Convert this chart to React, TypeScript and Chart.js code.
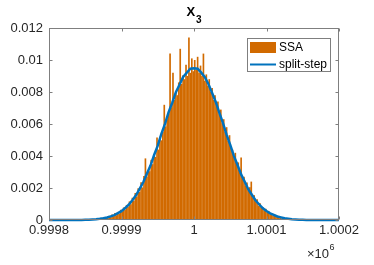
import React, { useEffect, useRef } from 'react';
import { Chart, registerables } from 'chart.js';

Chart.register(...registerables);

// Histogram (SSA): bin centres start at 999861, bin width 2
const BIN_START = 999861;
const BIN_WIDTH = 2;
const ssaDensity = [
  0.00002, 0, 0.00006, 0.00003, 0.00012, 0.00005, 0.0001, 0.00016, 0.00009, 0.00018,
  0.00014, 0.00026, 0.00018, 0.00034, 0.00024, 0.00044, 0.0003, 0.00048, 0.00039, 0.00064,
  0.0005, 0.00078, 0.00065, 0.00094, 0.00081, 0.00116, 0.00098, 0.00139, 0.0012, 0.00169,
  0.00146, 0.00198, 0.00175, 0.00236, 0.00204, 0.00275, 0.00385, 0.0027, 0.00312, 0.00305,
  0.00376, 0.00349, 0.0041, 0.00395, 0.00515, 0.0044, 0.0052, 0.00498, 0.0055, 0.0072,
  0.00585, 0.0063, 0.00662, 0.0104, 0.00705, 0.0092, 0.0075, 0.00805, 0.0078, 0.0086,
  0.0107, 0.0085, 0.00905, 0.0088, 0.0097, 0.009, 0.0114, 0.0092, 0.0101, 0.0093,
  0.01, 0.0094, 0.0102, 0.0092, 0.00965, 0.009, 0.0104, 0.0087, 0.0091, 0.0084,
  0.0088, 0.008, 0.00825, 0.0075, 0.0078, 0.0071, 0.0074, 0.0066, 0.0069, 0.00605,
  0.0063, 0.0055, 0.0058, 0.00495, 0.0053, 0.0045, 0.0044, 0.00395, 0.0042, 0.00345,
  0.0036, 0.00295, 0.0039, 0.0026, 0.0027, 0.00215, 0.00235, 0.00185, 0.00205, 0.0024,
  0.0014, 0.00155, 0.00115, 0.0013, 0.0009, 0.00105, 0.00075, 0.0008, 0.0006, 0.0007,
  0.00048, 0.00055, 0.00036, 0.00042, 0.00028, 0.00034, 0.0002, 0.00026, 0.00014, 0.00019,
  0.0001, 0.00015, 0.00006, 0.0001, 0.00003, 0.00006, 0.00002,
];

// Split-step curve: x from 999800 every 5
const LINE_START = 999800;
const LINE_STEP = 5;
const splitStepDensity = [
  0, 0, 0, 0, 0.000001, 0.000001, 0.000002, 0.000002, 0.000004, 0.000006,
  0.00001, 0.000018, 0.000033, 0.000052, 0.000078, 0.000115, 0.00016, 0.000225, 0.000305, 0.000425,
  0.000555, 0.000745, 0.000955, 0.00124, 0.00154, 0.00194, 0.00236, 0.00289, 0.0034, 0.00406,
  0.00465, 0.00538, 0.00601, 0.00674, 0.00733, 0.00799, 0.00845, 0.00894, 0.0092, 0.00946,
  0.00948,
  0.00946, 0.00921, 0.00893, 0.00849, 0.00794, 0.00738, 0.00669, 0.00606, 0.00532, 0.0047,
  0.00401, 0.00344, 0.00285, 0.00239, 0.00191, 0.00156, 0.00122, 0.00097, 0.00073, 0.000565,
  0.000415, 0.000315, 0.00022, 0.000162, 0.000108, 0.00008, 0.00005, 0.000035, 0.00002, 0.000012,
  0.000007, 0.000004, 0.000003, 0.000002, 0.000001, 0.000001, 0, 0, 0, 0,
];

const xTickValues = [999800, 999900, 1000000, 1000100, 1000200];
const xTickLabels = ['0.9998', '0.9999', '1', '1.0001', '1.0002'];
const yTickValues = [0, 0.002, 0.004, 0.006, 0.008, 0.01, 0.012];
const yTickLabels = ['0', '0.002', '0.004', '0.006', '0.008', '0.01', '0.012'];

const seriesLabels = ['SSA', 'split-step'];
const titleMain = 'X';
const titleSub = '3';
const exponentBase = '\u00d710';
const exponentPower = '6';

const FONT = "'Liberation Sans', Arial, Helvetica, sans-serif";
const TEXT = '#262626';
const ORANGE = 'rgb(209,106,0)';
const BLUE = 'rgb(0,114,189)';
const AXIS = '#7f7f7f';

const framePlugin = {
  id: 'matlabFrame',
  afterDraw(chart: any) {
    const { ctx, chartArea } = chart;
    const l = Math.round(chartArea.left) + 0.5;
    const r = Math.round(chartArea.right) - 0.5;
    const t = Math.round(chartArea.top) + 0.5;
    const b = Math.round(chartArea.bottom) - 0.5;
    ctx.save();
    ctx.strokeStyle = AXIS;
    ctx.lineWidth = 1;
    ctx.strokeRect(l, t, r - l, b - t);
    const xs = chart.scales.x;
    const ys = chart.scales.y;
    ctx.beginPath();
    xTickValues.forEach((v) => {
      const px = Math.round(xs.getPixelForValue(v)) + 0.5;
      ctx.moveTo(px, b); ctx.lineTo(px, b - 3);
      ctx.moveTo(px, t); ctx.lineTo(px, t + 3);
    });
    yTickValues.forEach((v) => {
      const py = Math.round(ys.getPixelForValue(v)) + 0.5;
      ctx.moveTo(l, py); ctx.lineTo(l + 3, py);
      ctx.moveTo(r, py); ctx.lineTo(r - 3, py);
    });
    ctx.stroke();

    // title
    ctx.fillStyle = '#000';
    ctx.textBaseline = 'alphabetic';
    ctx.textAlign = 'left';
    ctx.font = `bold 13px ${FONT}`;
    const wX = ctx.measureText(titleMain).width;
    ctx.font = `bold 10px ${FONT}`;
    const w3 = ctx.measureText(titleSub).width;
    const cx = (chartArea.left + chartArea.right) / 2;
    const startX = cx - (wX + w3 + 1) / 2;
    ctx.font = `bold 13px ${FONT}`;
    ctx.fillText(titleMain, startX, 16);
    ctx.font = `bold 10px ${FONT}`;
    ctx.fillText(titleSub, startX + wX + 1, 23);

    // exponent
    ctx.fillStyle = TEXT;
    ctx.font = `13px ${FONT}`;
    ctx.fillText(exponentBase, 307, 258);
    const wb = ctx.measureText(exponentBase).width;
    ctx.font = `9px ${FONT}`;
    ctx.fillText(exponentPower, 307 + wb + 0.5, 250);

    // legend
    ctx.fillStyle = '#fff';
    ctx.fillRect(247, 38, 84, 34);
    ctx.strokeStyle = AXIS;
    ctx.strokeRect(247.5, 38.5, 83, 33);
    ctx.fillStyle = ORANGE;
    ctx.fillRect(250, 42, 26, 11);
    ctx.strokeStyle = BLUE;
    ctx.lineWidth = 2;
    ctx.beginPath();
    ctx.moveTo(250, 64.5); ctx.lineTo(276, 64.5);
    ctx.stroke();
    ctx.fillStyle = '#000';
    ctx.font = `12px ${FONT}`;
    ctx.textBaseline = 'middle';
    ctx.fillText(seriesLabels[0], 279, 48);
    ctx.fillText(seriesLabels[1], 279, 65);
    ctx.restore();
  },
};

export default function App() {
  const ref = useRef<HTMLCanvasElement>(null);
  useEffect(() => {
    document.body.style.margin = '0';
    const canvas = ref.current;
    if (!canvas) return;
    const chart = new Chart(canvas, {
      type: 'bar',
      data: {
        datasets: [
          {
            type: 'line',
            label: seriesLabels[1],
            data: splitStepDensity.map((y, i) => ({ x: LINE_START + i * LINE_STEP, y })),
            borderColor: BLUE,
            backgroundColor: BLUE,
            borderWidth: 2.5,
            pointRadius: 0,
            tension: 0,
            order: 0,
            clip: false,
          } as any,
          {
            type: 'bar',
            label: seriesLabels[0],
            data: ssaDensity.map((y, i) => ({ x: BIN_START + i * BIN_WIDTH, y })),
            backgroundColor: ORANGE,
            borderWidth: 0,
            barPercentage: 1.15,
            categoryPercentage: 1,
            order: 1,
          } as any,
        ],
      },
      options: {
        responsive: false,
        animation: false,
        devicePixelRatio: 1,
        layout: { padding: { left: 0, right: 35, top: 28, bottom: 0 } },
        plugins: { legend: { display: false }, tooltip: { enabled: false }, title: { display: false } },
        scales: {
          x: {
            type: 'linear',
            min: 999800,
            max: 1000200,
            offset: false,
            afterBuildTicks: (s: any) => { s.ticks = xTickValues.map((v) => ({ value: v })); },
            afterFit: (s: any) => { s.height = 45; },
            ticks: {
              callback: (_v: any, i: number) => xTickLabels[i],
              autoSkip: false,
              maxRotation: 0,
              padding: 3,
              color: TEXT,
              font: { family: FONT, size: 13 },
            },
            grid: { display: false, drawTicks: false },
            border: { display: false },
          },
          y: {
            min: 0,
            max: 0.012,
            afterBuildTicks: (s: any) => { s.ticks = yTickValues.map((v) => ({ value: v })); },
            afterFit: (s: any) => { s.width = 49; },
            ticks: {
              callback: (_v: any, i: number) => yTickLabels[i],
              autoSkip: false,
              padding: 6,
              color: TEXT,
              font: { family: FONT, size: 13 },
            },
            grid: { display: false, drawTicks: false },
            border: { display: false },
          },
        },
      } as any,
      plugins: [framePlugin],
    });
    return () => chart.destroy();
  }, []);
  return (
    <div style={{ width: 374, height: 265 }}>
      <canvas ref={ref} width={374} height={265} style={{ display: 'block' }} />
    </div>
  );
}
